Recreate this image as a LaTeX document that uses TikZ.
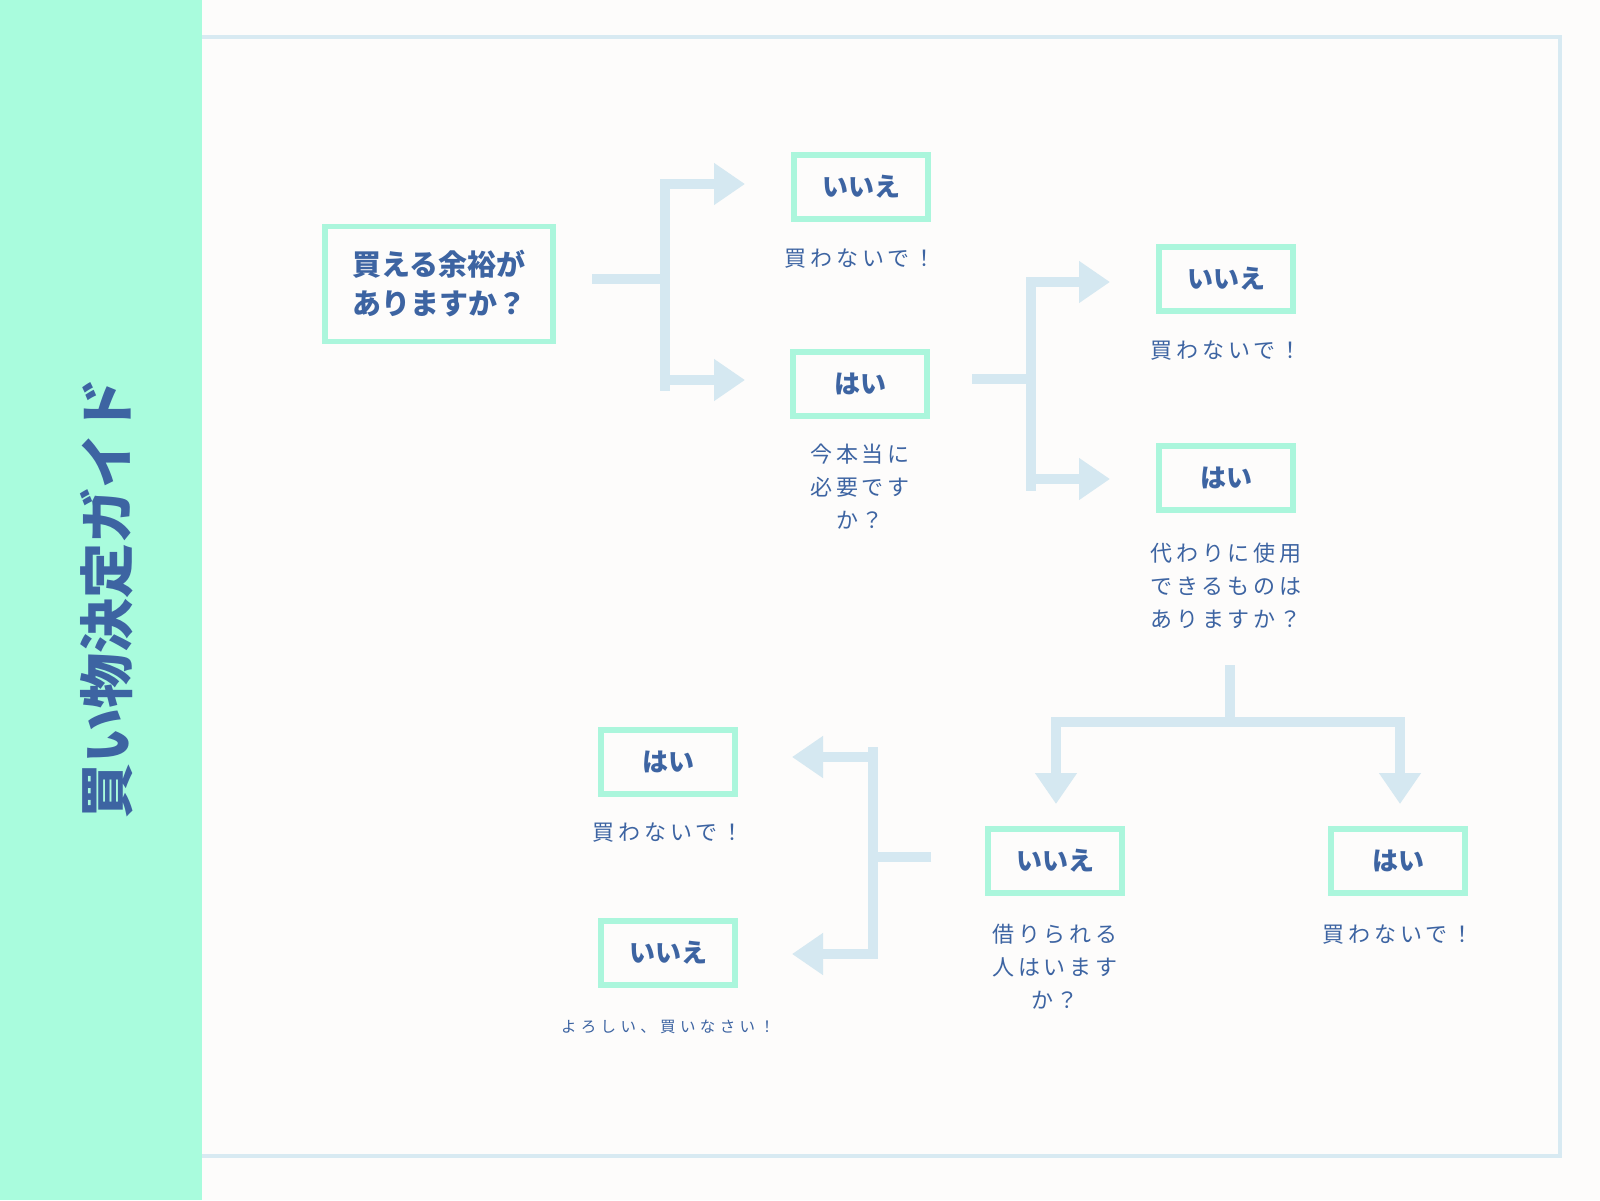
\documentclass[tikz,border=0pt]{standalone}
\usepackage{fontspec}
\newfontfamily\jp{Noto Sans CJK JP}
\newfontfamily\jpsp{Noto Sans CJK JP}[LetterSpace=18]
\newfontfamily\jpsq{Noto Sans CJK JP}[LetterSpace=28]
\usetikzlibrary{arrows.meta}
\definecolor{mint}{HTML}{A9FCDD}
\definecolor{boxmint}{HTML}{ABF6DC}
\definecolor{bgwhite}{HTML}{FDFCFB}
\definecolor{ink}{HTML}{3D64A2}
\definecolor{connblue}{HTML}{D5E8F1}
\definecolor{frameblue}{HTML}{D8EAF2}
\tikzset{
  box/.style={draw=boxmint, line width=5.5pt, fill=bgwhite, minimum width=134pt, minimum height=64pt,
    inner sep=0pt, text=ink, font=\jp\bfseries\fontsize{26}{30}\selectfont},
  mainbox/.style={box, minimum width=228pt, minimum height=115pt, align=center,
    font=\jp\bfseries\fontsize{29}{39}\selectfont},
  desc/.style={text=ink, align=center, inner sep=0pt, font=\jpsp\fontsize{22}{33}\selectfont},
  smalldesc/.style={desc, font=\jpsq\fontsize{15.5}{20}\selectfont},
  conn/.style={draw=connblue, line width=10pt, line cap=butt},
  arr/.style={conn, -{Triangle[width=40pt,length=31pt]}}
}
\begin{document}
\begin{tikzpicture}[x=1pt,y=-1pt]
\useasboundingbox (0,0) rectangle (1600,1200);
\fill[bgwhite] (0,0) rectangle (1600,1200);
\draw[frameblue, line width=4.5pt] (190,37) rectangle (1560,1156);
\fill[mint] (0,0) rectangle (202,1200);

% title
\node[rotate=90, text=ink, inner sep=0pt, font=\jp\bfseries\fontsize{55}{55}\selectfont] (title) at (107,598) {買い物決定ガイド};

% boxes
\node[mainbox] (q1) at (439,284) {買える余裕が\\ありますか？};
\node[box] (n1) at (861,187) {いいえ};
\node[box] (y1) at (860,384) {はい};
\node[desc] (d1) at (860,259) {買わないで！};
\node[desc] (d2) at (860,487) {今本当に\\必要です\\か？};

\node[box] (n2) at (1226,279) {いいえ};
\node[box] (y2) at (1226,478) {はい};
\node[desc] (d3) at (1226,351) {買わないで！};
\node[desc] (d4) at (1226,586) {代わりに使用\\できるものは\\ありますか？};

\node[box] (n3) at (1055,861) {いいえ};
\node[box] (y3) at (1398,861) {はい};
\node[desc] (d5) at (1055,967) {借りられる\\人はいます\\か？};
\node[desc] (d6) at (1398,935) {買わないで！};

\node[box] (y4) at (668,762) {はい};
\node[box] (n4) at (668,953) {いいえ};
\node[desc] (d7) at (668,833) {買わないで！};
\node[smalldesc] (d8) at (668,1027) {よろしい、買いなさい！};

% connector A
\coordinate (a0) at (592,279);
\coordinate (a1) at (665,279);
\coordinate (a2) at (665,179);
\coordinate (a3) at (665,391);
\coordinate (at1) at (745,184);
\coordinate (at2) at (745,380);
\draw[conn] (a0) -- (a1);
\draw[conn] (a2) -- (a3);
\draw[arr] (a2 |- at1) -- (at1);
\draw[arr] (a2 |- at2) -- (at2);

% connector B
\coordinate (b0) at (972,379);
\coordinate (b1) at (1031,379);
\coordinate (b2) at (1031,277);
\coordinate (b3) at (1031,491);
\coordinate (bt1) at (1110,282);
\coordinate (bt2) at (1110,479);
\draw[conn] (b0) -- (b1);
\draw[conn] (b2) -- (b3);
\draw[arr] (b2 |- bt1) -- (bt1);
\draw[arr] (b2 |- bt2) -- (bt2);

% connector C
\coordinate (c0) at (1230,665);
\coordinate (c1) at (1230,722);
\coordinate (c2) at (1051,722);
\coordinate (c3) at (1405,722);
\coordinate (ct1) at (1056,804);
\coordinate (ct2) at (1400,804);
\draw[conn] (c0) -- (c1);
\draw[conn] (c2) -- (c3);
\draw[arr] (ct1 |- c1) -- (ct1);
\draw[arr] (ct2 |- c1) -- (ct2);

% connector D
\coordinate (e0) at (931,857);
\coordinate (e1) at (873,857);
\coordinate (e2) at (873,747);
\coordinate (e3) at (873,959);
\coordinate (et1) at (792,757);
\coordinate (et2) at (792,954);
\draw[conn] (e0) -- (e1);
\draw[conn] (e2) -- (e3);
\draw[arr] (e2 |- et1) -- (et1);
\draw[arr] (e2 |- et2) -- (et2);
\end{tikzpicture}
\end{document}
